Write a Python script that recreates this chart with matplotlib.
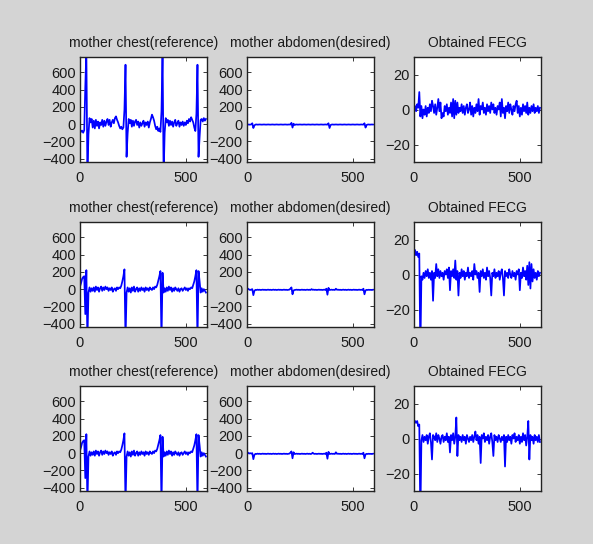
import numpy as np
import matplotlib
matplotlib.use("Agg")
import matplotlib.pyplot as plt

plt.rcParams['font.family'] = ['Liberation Sans', 'DejaVu Sans']

# sample index (every 5th sample of a 600-sample record)
SAMPLES = np.arange(0, 600, 5)

TITLES = ["mother chest(reference)", "mother abdomen(desired)", "Obtained FECG"]
X_TICKS = [0, 500]
ECG_Y_TICKS = [-400, -200, 0, 200, 400, 600]
FECG_Y_TICKS = [-20, 0, 20]

CHEST_REF_1 = [
    -60, -90, -75, -100, -70, 430, 850, -600, -120, 70,
    20, 60, -40, 40, -50, 50, -20, 30, -50, 20,
    -10, 50, -30, 40, -20, 30, 60, -10, 50, -30,
    20, 50, 10, 70, 90, 50, 20, -20, -50, -30,
    -60, -40, 170, 690, -380, -110, 60, 10, 50, -30,
    40, -20, 30, 50, -10, 30, -40, 20, -20, 10,
    40, -30, 20, -10, 30, -40, 20, 60, 110, 80,
    40, -20, -60, -30, -80, -50, -90, 150, 850, -600,
    -100, 70, 20, 50, -20, 40, -10, 30, -30, 20,
    50, -20, 10, 40, -30, 20, -10, 30, -20, 20,
    -10, 40, 10, 60, 30, 80, 50, 20, -40, -80,
    120, 690, -380, -150, 50, 60, 30, 70, 40, 60,
]

CHEST_REF_2 = [
    30, 70, 120, 140, 150, -290, 220, -600, -40, 20,
    -30, 10, -20, 20, -30, 30, -10, 20, -30, 10,
    30, -20, 20, -10, 30, 0, 20, -20, 10, -10,
    20, -30, 0, 10, -20, 20, 0, 20, 10, 40,
    90, 150, 230, -600, -40, 20, -30, 10, -40, 20,
    -20, 30, -30, 0, 20, -30, 10, -20, 20, -10,
    10, -30, 20, -10, 10, -20, 20, 0, -10, 20,
    0, 30, 20, 50, 100, 150, 210, -600, 190, -40,
    10, -30, 20, -20, 30, -10, 20, -30, 10, -20,
    20, 0, -20, 10, -30, 0, 10, -20, 0, 20,
    -10, 10, -20, 10, 0, 20, 10, 50, 90, 150,
    220, -600, 210, 90, -40, 10, -30, 0, -20, -40,
]

ABDOMEN_1 = [
    -5, -4, -6, -5, -4, 10, -45, -15, -5, -4,
    -6, -5, -4, -5, -6, -5, -4, -5, -6, -5,
    -4, -5, -6, -5, -4, -5, -6, -5, -4, -5,
    -6, -5, -4, -5, -6, -5, -4, -5, -6, -5,
    -4, -5, 15, -40, 5, -10, -5, -4, -6, -5,
    -4, -5, -6, -5, -4, -5, -6, -5, -4, -5,
    -6, -5, -4, -5, -6, -5, -4, -5, -6, -5,
    -4, -5, -6, -5, -4, -5, -6, 10, -45, -10,
    -5, -4, -6, -5, -4, -5, -6, -5, -4, -5,
    -6, -5, -4, -5, -6, -5, -4, -5, -6, -5,
    -4, -5, -6, -5, -4, -5, -6, -5, -4, -5,
    -6, 10, -40, -10, -5, -4, -6, -5, -4, -5,
]

ABDOMEN_2 = [
    10, 5, -5, -10, -5, 0, -70, -20, -8, -10,
    -6, -9, -7, -10, -8, -6, -9, -7, -10, -8,
    -6, -9, -7, -10, -8, -6, -9, -7, -10, -8,
    -6, -9, -7, -10, -8, -6, -9, -7, -10, -8,
    -6, 5, 20, -60, -15, -10, -8, -6, -9, -7,
    -10, -8, -6, -9, -7, -10, -8, -6, -9, -7,
    -10, 0, -8, -6, -9, -7, -10, -8, -6, -9,
    -7, -10, -8, -6, -9, 5, -65, 15, -10, -8,
    -6, -9, -7, -10, 5, -8, -6, -9, -7, -10,
    -8, -6, -9, -7, -10, -8, -6, -9, -7, -10,
    -8, -6, -9, -7, -10, -8, -6, -9, -7, -10,
    5, -60, -15, -8, -10, -7, -9, -8, -10, -7,
]

ABDOMEN_3 = [
    10, 5, -5, 0, -5, 0, -70, -20, -8, -10,
    -6, -9, -7, -10, -8, -6, -9, -7, -10, -8,
    -6, -9, -7, -10, -8, -6, -9, -7, -10, -8,
    -6, -9, -7, -10, -8, -6, -9, -7, -10, -8,
    -6, 5, 20, -60, 10, -10, -8, -6, -9, -7,
    -10, -8, -6, -9, -7, -10, -8, -6, -9, -7,
    -10, -8, 5, -6, -9, -7, -10, -8, -6, -9,
    -7, -10, -8, -6, -9, 5, -65, 15, -10, -8,
    -6, -9, -7, -10, 10, -8, -6, -9, -7, -10,
    -8, -6, -9, -7, -10, -8, -6, -9, -7, -10,
    -8, -6, -9, -7, -10, -8, -6, -9, -7, -10,
    5, -60, -15, -8, -10, -7, -9, -8, -10, -7,
]

FECG_1 = [
    0, 2, -1, 3, 1, 10, -4, 2, -5, 0,
    -3, 2, -4, 1, -2, 3, -1, 5, 2, -2,
    3, -3, 1, 6, -1, 4, -5, -2, -4, 2,
    -1, 3, -3, 1, -2, 4, -4, 6, -5, 5,
    -3, 4, -2, 1, -1, 3, -2, 2, -3, 1,
    3, -2, 0, 4, -3, 2, -4, 1, -2, 3,
    -1, 6, -3, 2, 0, 4, -2, 1, -3, 3,
    -1, 2, -2, 4, 0, 3, -2, 1, -3, 2,
    0, 4, -4, 6, -2, 1, -5, 2, -1, 4,
    -2, 3, 0, -3, 2, -1, 3, 5, -2, 2,
    -4, 1, -3, 3, -1, 2, -2, 4, -3, 1,
    -2, 2, -1, 3, -2, 1, -1, 2, -2, 1,
]

FECG_2 = [
    10, 14, 11, 13, 10, 12, -45, -1, -3, 1,
    -2, 2, -1, 3, -2, 1, -3, 2, -15, 1,
    -2, 6, -1, 3, -2, 2, -1, 1, -3, 2,
    0, 3, -2, 4, -9, 2, -1, 3, -2, 8,
    -3, 2, -12, 1, -2, 3, -1, 2, -3, 1,
    -1, 4, -2, 1, -1, 2, -3, 6, 0, 2,
    -2, 1, -10, 2, -1, 3, -2, 1, -3, 4,
    -1, 2, -2, -12, 1, -1, 3, -2, 1, -1,
    2, -3, 1, 3, -2, -12, 2, -1, 1, -2,
    3, 0, -2, 2, -1, 1, -3, 2, 0, 3,
    -9, 1, -2, 4, -1, 2, -3, 5, -6, 7,
    -8, 6, -4, 3, -2, 1, -3, 2, -1, 1,
]

FECG_3 = [
    8, 10, 9, 10, 7, 8, -45, -1, 2, -2,
    1, -1, 2, -3, 1, 3, -2, -12, 2, 1,
    -1, 3, -2, 2, 0, -3, 1, 2, -2, 1,
    -1, 3, -2, 1, -8, 2, -1, 3, -3, 1,
    12, -10, 2, -1, 1, -2, 2, -1, 1, -3,
    2, 0, -2, 1, -1, 2, -2, 1, 4, -1,
    2, -3, 1, -14, 2, 0, 3, -2, 1, -1,
    2, -3, 1, 3, -2, -10, 2, -1, 1, -2,
    2, 0, -2, 1, -1, 2, -16, 1, -2, 2,
    -1, 1, -3, 2, 0, 3, -2, 1, -1, 2,
    -3, 1, -2, 3, -1, 2, -4, 1, 10, -12,
    2, -1, 1, -3, 2, -1, 1, -2, 2, -2,
]

GRID = [
    [CHEST_REF_1, ABDOMEN_1, FECG_1],
    [CHEST_REF_2, ABDOMEN_2, FECG_2],
    [CHEST_REF_2, ABDOMEN_3, FECG_3],
]

W, H = 593, 544
fig = plt.figure(figsize=(W / 100, H / 100), dpi=100)
fig.patch.set_facecolor('#d4d4d4')

col_left = [80, 247, 414]
row_top = [57, 222, 386]
ax_w, ax_h = 127, 105

for r in range(3):
    for c in range(3):
        ax = fig.add_axes([col_left[c] / W, 1 - (row_top[r] + ax_h) / H, ax_w / W, ax_h / H])
        ax.set_facecolor('white')
        ax.plot(SAMPLES, GRID[r][c], color='#0000ff', lw=1.25)
        ax.set_xlim(0, 600)
        ax.set_xticks(X_TICKS)
        if c < 2:
            ax.set_ylim(-440, 780)
            ax.set_yticks(ECG_Y_TICKS)
        else:
            ax.set_ylim(-30, 30)
            ax.set_yticks(FECG_Y_TICKS)
        ax.tick_params(direction='in', length=3, width=0.6, top=True, right=True,
                       labelsize=10.5, colors='#1a1a1a')
        ax.tick_params(axis='x', pad=6.5)
        ax.tick_params(axis='y', pad=3)
        for s in ax.spines.values():
            s.set_linewidth(1.0)
            s.set_color('#222222')
        ax.set_title(TITLES[c], fontsize=10, color='#1a1a1a', pad=7)

fig.savefig('out.png', dpi=100, facecolor=fig.get_facecolor())
